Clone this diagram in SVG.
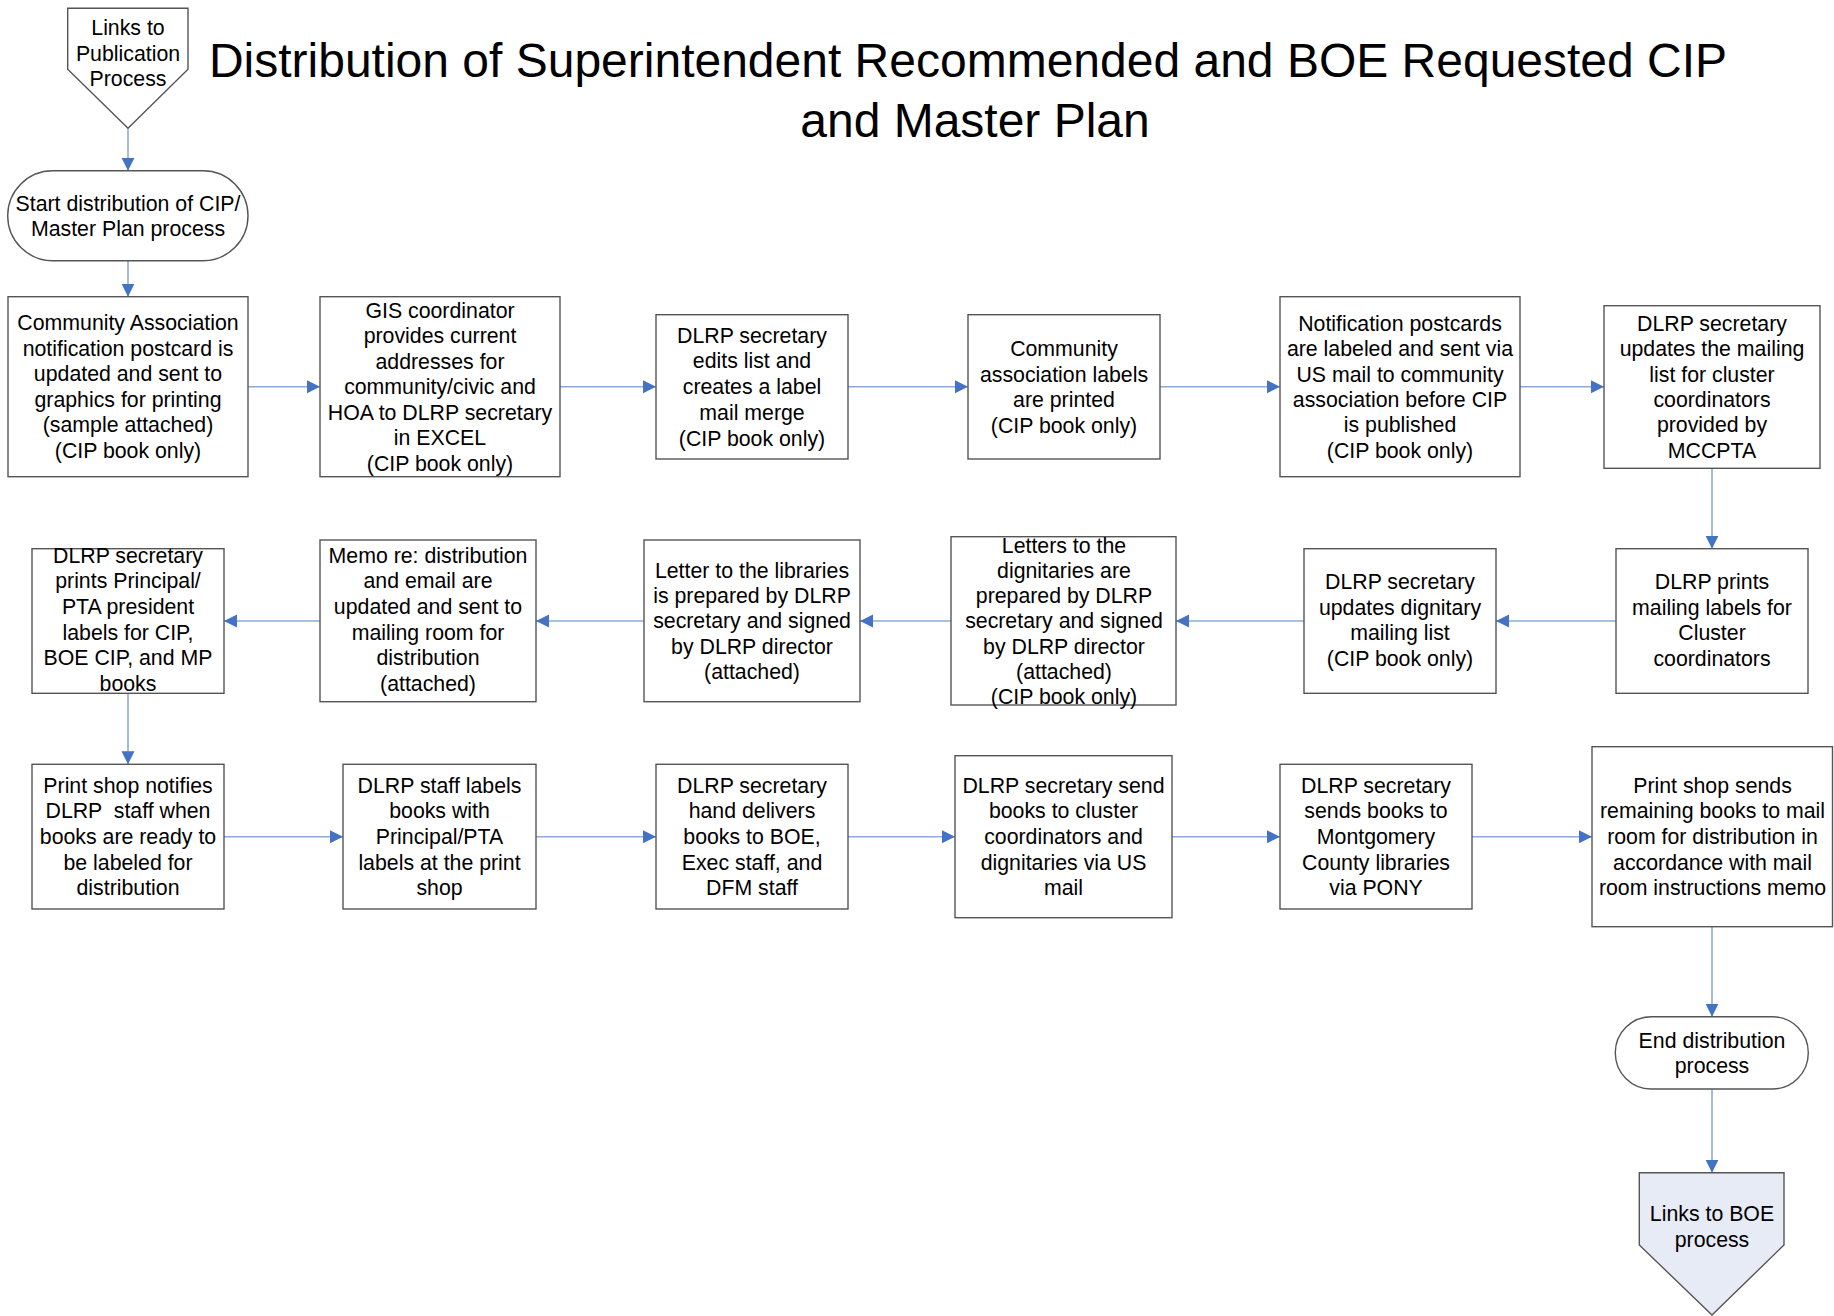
<svg xmlns="http://www.w3.org/2000/svg" width="1834" height="1316" viewBox="0 0 1834 1316">
<defs>
<marker id="ah" markerUnits="userSpaceOnUse" markerWidth="14" markerHeight="14" refX="13" refY="6.5" orient="auto">
<path d="M0,0 L13,6.5 L0,13 z" fill="#4472c4"/>
</marker>
<style>
.box{fill:#ffffff;stroke:#555555;stroke-width:1.4}
.t{font-family:"Liberation Sans",Arial,sans-serif;font-size:21.3px;fill:#000000;text-anchor:middle;white-space:pre}
.title{font-family:"Liberation Sans",Arial,sans-serif;font-size:48px;fill:#000000;text-anchor:middle}
.c{fill:none;stroke:#8eaadb;stroke-width:1.6;marker-end:url(#ah)}
</style>
</defs>
<rect width="1834" height="1316" fill="#ffffff"/>
<g id="title">
<text class="title" x="968" y="77">Distribution of Superintendent Recommended and BOE Requested CIP</text>
<text class="title" x="975" y="137">and Master Plan</text>
</g>
<g id="connectors">
<path class="c" d="M128,128.5 L128,170.7"/>
<path class="c" d="M128,260.7 L128,296.7"/>
<path class="c" d="M248,386.7 L320,386.7"/>
<path class="c" d="M560,386.7 L656,386.7"/>
<path class="c" d="M848,386.7 L968,386.7"/>
<path class="c" d="M1160,386.7 L1280,386.7"/>
<path class="c" d="M1520,386.7 L1604,386.7"/>
<path class="c" d="M1712,468.3 L1712,548.7"/>
<path class="c" d="M1616,621 L1496,621"/>
<path class="c" d="M1304,621 L1176,621"/>
<path class="c" d="M951,621 L860,621"/>
<path class="c" d="M644,621 L536,621"/>
<path class="c" d="M320,621 L224,621"/>
<path class="c" d="M128,693.3 L128,764.3"/>
<path class="c" d="M224,836.7 L343,836.7"/>
<path class="c" d="M536,836.7 L656,836.7"/>
<path class="c" d="M848,836.7 L955,836.7"/>
<path class="c" d="M1172,836.7 L1280,836.7"/>
<path class="c" d="M1472,836.7 L1592,836.7"/>
<path class="c" d="M1712,926.7 L1712,1016.7"/>
<path class="c" d="M1712,1089 L1712,1172.7"/>
</g>
<g id="linkPublication">
<polygon class="box" points="67.7,8.3 188,8.3 188,69.3 128,128.3 67.7,69.3"/>
<text class="t" x="128" y="35">Links to</text>
<text class="t" x="128" y="60.5">Publication</text>
<text class="t" x="128" y="86">Process</text>
</g>
<g id="start">
<rect class="box" x="7.7" y="170.7" width="240.3" height="90" rx="45" ry="45"/>
<text class="t" x="128" y="211">Start distribution of CIP/</text>
<text class="t" x="128" y="236">Master Plan process</text>
</g>
<g id="n1">
<rect class="box" x="8" y="296.7" width="240" height="180"/>
<text class="t" x="128" y="330">Community Association</text>
<text class="t" x="128" y="355.5">notification postcard is</text>
<text class="t" x="128" y="381">updated and sent to</text>
<text class="t" x="128" y="406.5">graphics for printing</text>
<text class="t" x="128" y="432">(sample attached)</text>
<text class="t" x="128" y="457.5">(CIP book only)</text>
</g>
<g id="n2">
<rect class="box" x="320" y="296.7" width="240" height="180"/>
<text class="t" x="440" y="317.5">GIS coordinator</text>
<text class="t" x="440" y="343">provides current</text>
<text class="t" x="440" y="368.6">addresses for</text>
<text class="t" x="440" y="394.2">community/civic and</text>
<text class="t" x="440" y="419.7">HOA to DLRP secretary</text>
<text class="t" x="440" y="445.3">in EXCEL</text>
<text class="t" x="440" y="470.8">(CIP book only)</text>
</g>
<g id="n3">
<rect class="box" x="656" y="314.7" width="192" height="144.3"/>
<text class="t" x="752" y="342.5">DLRP secretary</text>
<text class="t" x="752" y="368.3">edits list and</text>
<text class="t" x="752" y="394">creates a label</text>
<text class="t" x="752" y="420">mail merge</text>
<text class="t" x="752" y="445.8">(CIP book only)</text>
</g>
<g id="n4">
<rect class="box" x="968" y="314.7" width="192" height="144.3"/>
<text class="t" x="1064" y="355.8">Community</text>
<text class="t" x="1064" y="381.5">association labels</text>
<text class="t" x="1064" y="407.3">are printed</text>
<text class="t" x="1064" y="433.2">(CIP book only)</text>
</g>
<g id="n5">
<rect class="box" x="1280" y="296.7" width="240" height="180"/>
<text class="t" x="1400" y="330.8">Notification postcards</text>
<text class="t" x="1400" y="356.1">are labeled and sent via</text>
<text class="t" x="1400" y="381.5">US mail to community</text>
<text class="t" x="1400" y="406.8">association before CIP</text>
<text class="t" x="1400" y="432.1">is published</text>
<text class="t" x="1400" y="457.5">(CIP book only)</text>
</g>
<g id="n6">
<rect class="box" x="1604" y="305.7" width="216" height="162.6"/>
<text class="t" x="1712" y="330.8">DLRP secretary</text>
<text class="t" x="1712" y="356.1">updates the mailing</text>
<text class="t" x="1712" y="381.5">list for cluster</text>
<text class="t" x="1712" y="406.8">coordinators</text>
<text class="t" x="1712" y="432.1">provided by</text>
<text class="t" x="1712" y="457.5">MCCPTA</text>
</g>
<g id="n12">
<rect class="box" x="1616" y="548.7" width="192" height="144.6"/>
<text class="t" x="1712" y="589.2">DLRP prints</text>
<text class="t" x="1712" y="614.7">mailing labels for</text>
<text class="t" x="1712" y="640.3">Cluster</text>
<text class="t" x="1712" y="665.8">coordinators</text>
</g>
<g id="n11">
<rect class="box" x="1304" y="548.7" width="192" height="144.6"/>
<text class="t" x="1400" y="589.2">DLRP secretary</text>
<text class="t" x="1400" y="614.7">updates dignitary</text>
<text class="t" x="1400" y="640.3">mailing list</text>
<text class="t" x="1400" y="665.8">(CIP book only)</text>
</g>
<g id="n10">
<rect class="box" x="951" y="536.7" width="225" height="168.3"/>
<text class="t" x="1064" y="552.5">Letters to the</text>
<text class="t" x="1064" y="577.8">dignitaries are</text>
<text class="t" x="1064" y="603.1">prepared by DLRP</text>
<text class="t" x="1064" y="628.4">secretary and signed</text>
<text class="t" x="1064" y="653.7">by DLRP director</text>
<text class="t" x="1064" y="679">(attached)</text>
<text class="t" x="1064" y="704.2">(CIP book only)</text>
</g>
<g id="n9">
<rect class="box" x="644" y="540" width="216" height="161.7"/>
<text class="t" x="752" y="577.5">Letter to the libraries</text>
<text class="t" x="752" y="602.9">is prepared by DLRP</text>
<text class="t" x="752" y="628.3">secretary and signed</text>
<text class="t" x="752" y="653.7">by DLRP director</text>
<text class="t" x="752" y="679.2">(attached)</text>
</g>
<g id="n8">
<rect class="box" x="320" y="540" width="216" height="161.7"/>
<text class="t" x="428" y="562.5">Memo re: distribution</text>
<text class="t" x="428" y="588.2">and email are</text>
<text class="t" x="428" y="613.9">updated and sent to</text>
<text class="t" x="428" y="639.5">mailing room for</text>
<text class="t" x="428" y="665.2">distribution</text>
<text class="t" x="428" y="690.8">(attached)</text>
</g>
<g id="n7">
<rect class="box" x="32" y="548.7" width="192" height="144.6"/>
<text class="t" x="128" y="562.5">DLRP secretary</text>
<text class="t" x="128" y="588.2">prints Principal/</text>
<text class="t" x="128" y="613.9">PTA president</text>
<text class="t" x="128" y="639.5">labels for CIP,</text>
<text class="t" x="128" y="665.2">BOE CIP, and MP</text>
<text class="t" x="128" y="690.8">books</text>
</g>
<g id="n13">
<rect class="box" x="32" y="764.3" width="192" height="144.7"/>
<text class="t" x="128" y="792.5">Print shop notifies</text>
<text class="t" x="128" y="818.2">DLRP  staff when</text>
<text class="t" x="128" y="843.8">books are ready to</text>
<text class="t" x="128" y="869.5">be labeled for</text>
<text class="t" x="128" y="895.2">distribution</text>
</g>
<g id="n14">
<rect class="box" x="343" y="764.3" width="193" height="144.7"/>
<text class="t" x="439.5" y="792.5">DLRP staff labels</text>
<text class="t" x="439.5" y="818.2">books with</text>
<text class="t" x="439.5" y="843.8">Principal/PTA</text>
<text class="t" x="439.5" y="869.5">labels at the print</text>
<text class="t" x="439.5" y="895.2">shop</text>
</g>
<g id="n15">
<rect class="box" x="656" y="764.3" width="192" height="144.7"/>
<text class="t" x="752" y="792.5">DLRP secretary</text>
<text class="t" x="752" y="818.2">hand delivers</text>
<text class="t" x="752" y="843.8">books to BOE,</text>
<text class="t" x="752" y="869.5">Exec staff, and</text>
<text class="t" x="752" y="895.2">DFM staff</text>
</g>
<g id="n16">
<rect class="box" x="955" y="755.7" width="217" height="162"/>
<text class="t" x="1063.5" y="792.5">DLRP secretary send</text>
<text class="t" x="1063.5" y="818.2">books to cluster</text>
<text class="t" x="1063.5" y="843.8">coordinators and</text>
<text class="t" x="1063.5" y="869.5">dignitaries via US</text>
<text class="t" x="1063.5" y="895.2">mail</text>
</g>
<g id="n17">
<rect class="box" x="1280" y="764.3" width="192" height="144.7"/>
<text class="t" x="1376" y="792.5">DLRP secretary</text>
<text class="t" x="1376" y="818.2">sends books to</text>
<text class="t" x="1376" y="843.8">Montgomery</text>
<text class="t" x="1376" y="869.5">County libraries</text>
<text class="t" x="1376" y="895.2">via PONY</text>
</g>
<g id="n18">
<rect class="box" x="1592" y="746.7" width="240.5" height="180"/>
<text class="t" x="1712.5" y="792.5">Print shop sends</text>
<text class="t" x="1712.5" y="818.2">remaining books to mail</text>
<text class="t" x="1712.5" y="843.8">room for distribution in</text>
<text class="t" x="1712.5" y="869.5">accordance with mail</text>
<text class="t" x="1712.5" y="895.2">room instructions memo</text>
</g>
<g id="end">
<rect class="box" x="1615.3" y="1016.7" width="193" height="72.3" rx="36" ry="36"/>
<text class="t" x="1712" y="1047.5">End distribution</text>
<text class="t" x="1712" y="1072.5">process</text>
</g>
<g id="linkBOE">
<polygon class="box" style="fill:#e6ebf5" points="1639.3,1172.7 1784,1172.7 1784,1245 1712,1315 1639.3,1245"/>
<text class="t" x="1712" y="1221">Links to BOE</text>
<text class="t" x="1712" y="1246.5">process</text>
</g>
</svg>
